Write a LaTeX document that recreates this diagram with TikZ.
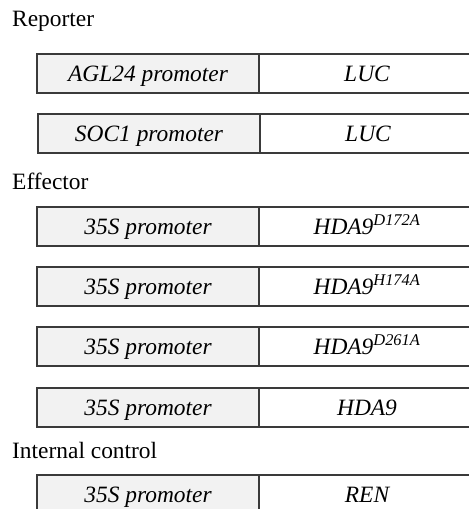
\documentclass[tikz,border=0pt]{standalone}
\usepackage{fontspec}
\setmainfont{LiberationSerif}[Extension=.ttf, UprightFont=*-Regular,
  ItalicFont=*-Italic, BoldFont=*-Bold, BoldItalicFont=*-BoldItalic]
\definecolor{boxline}{HTML}{3A3A3A}
\definecolor{promfill}{HTML}{F2F2F2}
\begin{document}
\begin{tikzpicture}[x=1bp,y=-1bp,
  txt/.style={font=\fontsize{23.5}{28}\selectfont},
  part/.style={draw=boxline, line width=1.2bp, minimum height=39bp,
    inner sep=0pt, outer sep=0pt, text height=21bp, text depth=5bp,
    font=\fontsize{23.5}{28}\selectfont\itshape},
  prom/.style={part, fill=promfill, minimum width=222bp},
  gene/.style={part, fill=white, minimum width=216bp, anchor=west},
  heading/.style={txt, anchor=base west, inner sep=0pt}]
\useasboundingbox (0,0) rectangle (469,509);
\clip (0,0) rectangle (469,509);

% section headings
\node[heading] (hrep) at (12,27) {Reporter};
\node[heading] (heff) at (12,190) {Effector};
\node[heading] (hint) at (12,458) {Internal control};

% reporter constructs
\node[prom] (p1) at (148,73.5) {AGL24 promoter};
\node[gene] (g1) at (p1.east) {LUC};
\node[prom] (p2) at (149,133.5) {SOC1 promoter};
\node[gene] (g2) at (p2.east) {LUC};

% effector constructs
\node[prom] (p3) at (148,226.5) {35S promoter};
\node[gene] (g3) at (p3.east) {HDA9\textsuperscript{D172A}};
\node[prom] (p4) at (148,286.5) {35S promoter};
\node[gene] (g4) at (p4.east) {HDA9\textsuperscript{H174A}};
\node[prom] (p5) at (148,346.5) {35S promoter};
\node[gene] (g5) at (p5.east) {HDA9\textsuperscript{D261A}};
\node[prom] (p6) at (148,407.5) {35S promoter};
\node[gene] (g6) at (p6.east) {HDA9};

% internal control
\node[prom] (p7) at (148,494.5) {35S promoter};
\node[gene] (g7) at (p7.east) {REN};
\end{tikzpicture}
\end{document}
